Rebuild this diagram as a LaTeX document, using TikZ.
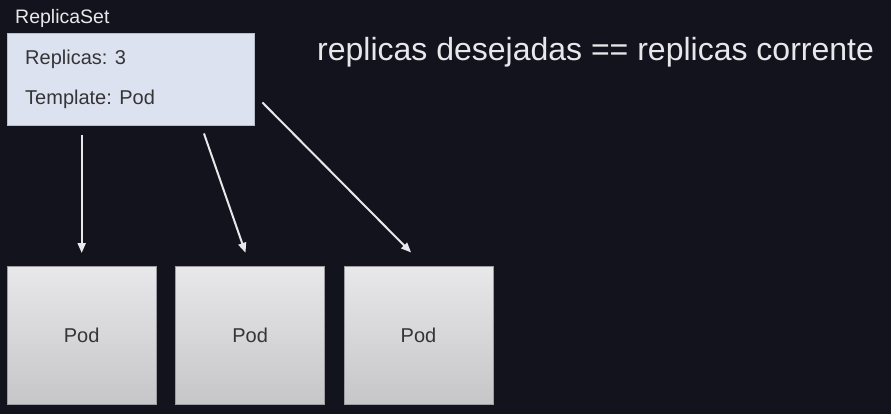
\documentclass[tikz,border=0pt]{standalone}
\usepackage{fontspec}
\setmainfont{Liberation Sans}
\usepackage{xcolor}
\usetikzlibrary{arrows.meta, positioning}

\definecolor{bg}{HTML}{13131D}
\definecolor{rsfill}{HTML}{DCE2F0}
\definecolor{rsedge}{HTML}{B8BECC}
\definecolor{podtop}{HTML}{E8E8EA}
\definecolor{podbot}{HTML}{C6C6C8}
\definecolor{podedge}{HTML}{9E9EA2}
\definecolor{inktext}{HTML}{353537}
\definecolor{lighttext}{HTML}{E8E8EC}

\begin{document}
\begin{tikzpicture}[x=1pt, y=-1pt,
    every node/.style={font=\fontsize{20}{23}\selectfont},
    rsbox/.style={draw=rsedge, fill=rsfill, minimum width=247pt, minimum height=92pt,
                  inner sep=0pt, anchor=north west},
    pod/.style={draw=podedge, top color=podtop, bottom color=podbot,
                minimum width=149pt, minimum height=138pt, inner sep=0pt, text=inktext},
    field/.style={anchor=base west, inner sep=0pt, text=inktext},
    link/.style={-{Triangle[length=10pt, width=8pt]}, line width=2pt, draw=lighttext},
  ]
  \useasboundingbox[fill=bg] (0,0) rectangle (891,414);

  \node[anchor=base west, inner sep=0pt, text=lighttext,
        font=\fontsize{19.5}{22}\selectfont] (rslabel) at (15,24) {ReplicaSet};
  \node[rsbox] (rs) at (7,33) {};
  \node[field] (replicas) at (25,65) {Replicas: 3};
  \node[field] (template) at (25,105) {Template: Pod};

  \node[anchor=base west, inner sep=0pt, text=lighttext,
        font=\fontsize{32}{36}\selectfont] (rule) at (317,61)
    {replicas desejadas == replicas corrente};

  \node[pod, anchor=north west] (pod1) at (7,266) {Pod};
  \node[pod, right=19pt of pod1] (pod2) {Pod};
  \node[pod, right=19pt of pod2] (pod3) {Pod};

  \coordinate (from2) at (201,125);
  \coordinate (from3) at (254,94);
  \draw[link, shorten <=10pt, shorten >=13pt] (rs.south -| pod1.north) -- (pod1.north);
  \draw[link, shorten <=9pt, shorten >=14pt] (from2) -- (pod2.north);
  \draw[link, shorten <=12pt, shorten >=19pt] (from3) -- ([xshift=6pt]pod3.north);
\end{tikzpicture}
\end{document}
